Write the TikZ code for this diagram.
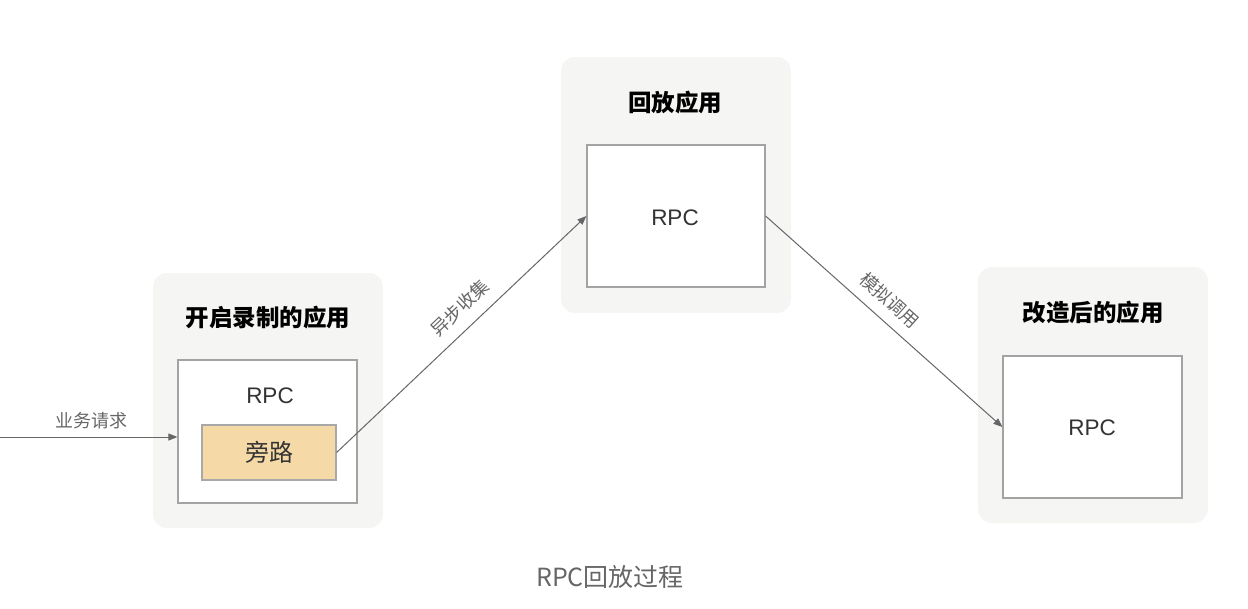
\documentclass[tikz,border=0pt]{standalone}
\usepackage{fontspec}
\setmainfont{Noto Sans CJK SC}
\newfontfamily\latinsans{Liberation Sans}
\usetikzlibrary{arrows.meta}
\definecolor{bggray}{HTML}{F5F5F3}
\definecolor{boxline}{HTML}{A3A3A3}
\definecolor{arrowgray}{HTML}{666666}
\definecolor{labelgray}{HTML}{666666}
\definecolor{rpctext}{HTML}{333333}
\definecolor{bypassfill}{HTML}{F5DAA8}
\definecolor{bypassline}{HTML}{A8A8A8}
\begin{document}
\begin{tikzpicture}[x=1pt,y=-1pt,
  group/.style={fill=bggray, draw=none, rounded corners=14pt, inner sep=0pt},
  inner/.style={fill=white, draw=boxline, line width=1.2pt, inner sep=0pt},
  bypass/.style={fill=bypassfill, draw=bypassline, line width=1.2pt, inner sep=0pt},
  title/.style={font=\fontsize{23.5}{27}\selectfont\bfseries, text=black},
  rpc/.style={font=\latinsans\fontsize{22.5}{26}\selectfont, text=rpctext},
  lbl/.style={font=\fontsize{18}{21}\selectfont, text=labelgray},
  conn/.style={draw=arrowgray, line width=1pt, -{Triangle[length=9pt,width=7pt]}}
]
\useasboundingbox (0,0) rectangle (1248,608);

% groups
\node[group, minimum width=230pt, minimum height=255pt] (g1) at (268,400.5) {};
\node[group, minimum width=230pt, minimum height=256pt] (g2) at (676,185) {};
\node[group, minimum width=230pt, minimum height=256pt] (g3) at (1093,395) {};

% titles
\node[title] (t1) at (268,318) {开启录制的应用};
\node[title] (t2) at (675,103) {回放应用};
\node[title] (t3) at (1093,313) {改造后的应用};

% inner boxes
\node[inner, minimum width=179pt, minimum height=143pt] (b1) at (267.5,431.5) {};
\node[inner, minimum width=178pt, minimum height=142pt] (b2) at (676,216) {};
\node[inner, minimum width=179pt, minimum height=142pt] (b3) at (1092.5,427) {};

\node[rpc] (r1) at (270,396) {RPC};
\node[rpc] (r2) at (675,218) {RPC};
\node[rpc] (r3) at (1092,428) {RPC};

% bypass
\node[bypass, minimum width=134pt, minimum height=55pt, font=\fontsize{24}{28}\selectfont, text=rpctext] (bp) at (269,452.5) {旁路};

% incoming request
\coordinate (src) at (0,437);
\draw[conn] (src) -- (src -| b1.west);
\node[lbl] (l0) at (91,421) {业务请求};

% connectors
\draw[conn] (bp.east) -- node[lbl, sloped, above=8pt, pos=0.55] (l1) {异步收集} (b2.west);
\draw[conn] (b2.east) -- node[lbl, sloped, above=7pt, pos=0.47] (l2) {模拟调用} (b3.west);

% caption
\node[font=\fontsize{25}{29}\selectfont, text=labelgray] (cap) at (610,577) {RPC回放过程};
\end{tikzpicture}
\end{document}
